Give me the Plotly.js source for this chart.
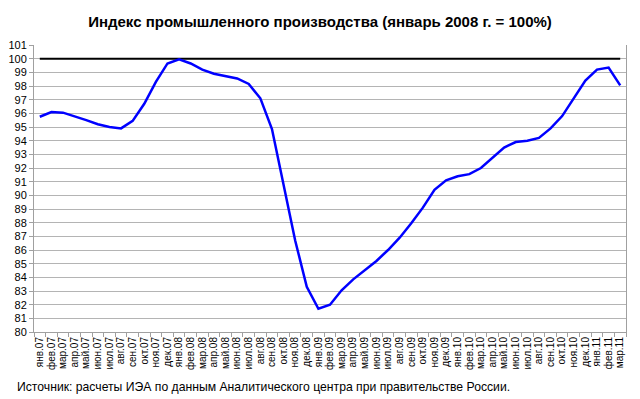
<!DOCTYPE html>
<html>
<head>
<meta charset="utf-8">
<script src="https://cdn.plot.ly/plotly-3.0.1.min.js"></script>
<style>html,body{margin:0;padding:0;background:#fff;}#chart{width:640px;height:399px;}</style>
</head>
<body>
<div id="chart"></div>
<script>
const months = ["янв.07","фев.07","мар.07","апр.07","май.07","июн.07","июл.07","авг.07","сен.07","окт.07","ноя.07","дек.07",
"янв.08","фев.08","мар.08","апр.08","май.08","июн.08","июл.08","авг.08","сен.08","окт.08","ноя.08","дек.08",
"янв.09","фев.09","мар.09","апр.09","май.09","июн.09","июл.09","авг.09","сен.09","окт.09","ноя.09","дек.09",
"янв.10","фев.10","мар.10","апр.10","май.10","июн.10","июл.10","авг.10","сен.10","окт.10","ноя.10","дек.10",
"янв.11","фев.11","мар.11"];
const indexValues = [95.75,96.1,96.05,95.8,95.5,95.2,95.0,94.9,95.45,96.7,98.3,99.65,
99.95,99.65,99.2,98.9,98.75,98.55,98.15,97.1,94.85,90.75,86.7,83.3,
81.7,82.0,83.05,83.85,84.5,85.2,86.0,86.9,87.95,89.1,90.4,91.1,
91.4,91.55,92.0,92.75,93.5,93.9,94.0,94.2,94.9,95.8,97.1,98.4,
99.2,99.35,98.05];
const baseLevel = months.map(() => 100);
const yTicks = [80,81,82,83,84,85,86,87,88,89,90,91,92,93,94,95,96,97,98,99,100,101];

const traces = [
  {x: months, y: baseLevel, type: 'scatter', mode: 'lines', line: {color: '#000000', width: 2}, hoverinfo: 'skip'},
  {x: months, y: indexValues, type: 'scatter', mode: 'lines', line: {color: '#0000FF', width: 2.5}}
];

const layout = {
  width: 640, height: 399,
  margin: {l: 34, r: 14, t: 45, b: 67},
  paper_bgcolor: '#ffffff', plot_bgcolor: '#ffffff',
  showlegend: false,
  font: {family: 'Liberation Sans, Arial, sans-serif', color: '#000000'},
  title: {text: '<b>Индекс промышленного производства (январь 2008 г. = 100%)</b>',
    font: {size: 15, family: 'Liberation Sans, Arial, sans-serif', color: '#000'},
    x: 0.5, xanchor: 'center', y: 0.945, yanchor: 'middle'},
  xaxis: {type: 'category', categoryorder: 'array', categoryarray: months,
    range: [-0.5, months.length - 0.5],
    tickmode: 'array', tickvals: months, ticktext: months,
    tickangle: -90, tickfont: {size: 10}, showgrid: false,
    ticks: 'outside', tickson: 'boundaries', ticklen: 4, tickcolor: '#a0a0a0',
    showline: true, linecolor: '#a0a0a0', linewidth: 1, zeroline: false, fixedrange: true},
  yaxis: {range: [80, 101], tickvals: yTicks, ticktext: yTicks.map(String),
    tickfont: {size: 11}, showgrid: true, gridcolor: '#b4b4b4', gridwidth: 1,
    ticks: 'outside', ticklen: 4, tickcolor: '#a0a0a0',
    showline: true, linecolor: '#a0a0a0', linewidth: 1, mirror: true, zeroline: false, fixedrange: true},
  annotations: [{text: 'Источник: расчеты ИЭА по данным Аналитического центра при правительстве России.',
    xref: 'paper', yref: 'paper', x: -0.032, y: -0.19, xanchor: 'left', yanchor: 'middle',
    showarrow: false, font: {size: 12.2, family: 'Liberation Sans, Arial, sans-serif', color: '#000'}}]
};

Plotly.newPlot('chart', traces, layout, {displayModeBar: false, staticPlot: true});
</script>
</body>
</html>
